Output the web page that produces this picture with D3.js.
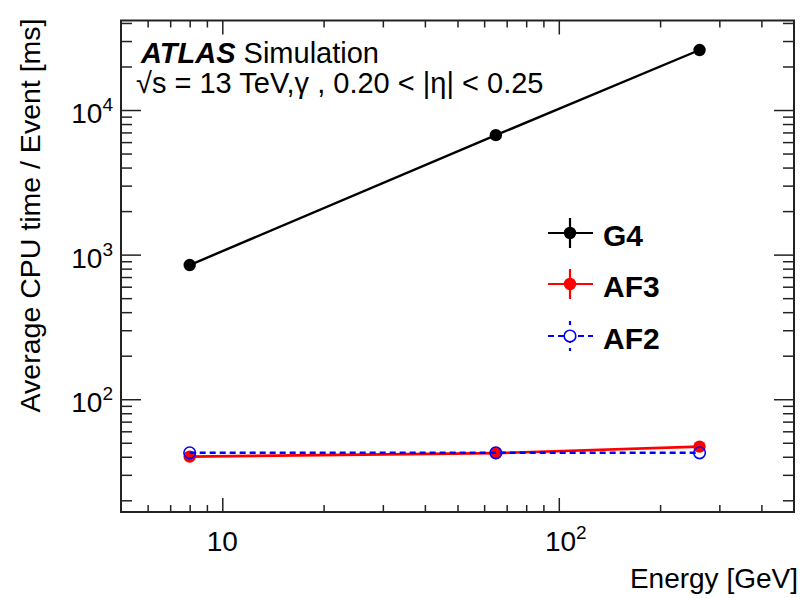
<!DOCTYPE html>
<html>
<head>
<meta charset="utf-8">
<script src="https://d3js.org/d3.v7.min.js"></script>
<style>
  body { margin: 0; background: #fff; }
  svg text { font-family: "Liberation Sans", Arial, Helvetica, sans-serif; fill: #000; }
</style>
</head>
<body>
<svg id="chart"></svg>
<script>
// energies in GeV
var energies = [8, 65, 262];
var g4 = [847, 6700, 26000];
var af3 = [40.1, 42.4, 47.0];
var af2 = [42.6, 42.6, 42.6];

var xMajor = [10, 100];
var xMinor = [6, 7, 8, 9, 20, 30, 40, 50, 60, 70, 80, 90, 200, 300, 400];
var yMajor = [100, 1000, 10000];
var yMinor = [20, 30, 40, 50, 60, 70, 80, 90, 200, 300, 400, 500, 600, 700, 800, 900,
              2000, 3000, 4000, 5000, 6000, 7000, 8000, 9000, 20000, 30000, 40000];

var width = 803, height = 598;
var pLeft = 121, pRight = 794, pTop = 20.5, pBottom = 512;

var svg = d3.select("#chart")
  .attr("width", width)
  .attr("height", height);

var x = d3.scaleLog().domain([5, 500]).range([pLeft, pRight]);
var y = d3.scaleLog().domain([16.6, 41600]).range([pBottom, pTop]);

// ticks on all four sides
function tickAxis(axisFn, scale, vals, size, tr) {
  var g = svg.append("g")
    .attr("transform", tr)
    .call(axisFn(scale).tickValues(vals).tickSize(size).tickFormat(""));
  g.select(".domain").remove();
  g.selectAll(".tick line").attr("stroke", "#222").attr("stroke-width", 1.5);
  return g;
}
tickAxis(d3.axisTop, x, xMajor, 14, "translate(0," + pBottom + ")");
tickAxis(d3.axisTop, x, xMinor, 7, "translate(0," + pBottom + ")");
tickAxis(d3.axisBottom, x, xMajor, 14, "translate(0," + pTop + ")");
tickAxis(d3.axisBottom, x, xMinor, 7, "translate(0," + pTop + ")");
tickAxis(d3.axisRight, y, yMajor, 20, "translate(" + pLeft + ",0)");
tickAxis(d3.axisRight, y, yMinor, 11, "translate(" + pLeft + ",0)");
tickAxis(d3.axisLeft, y, yMajor, 20, "translate(" + pRight + ",0)");
tickAxis(d3.axisLeft, y, yMinor, 11, "translate(" + pRight + ",0)");

// frame
svg.append("rect")
  .attr("x", pLeft).attr("y", pTop)
  .attr("width", pRight - pLeft).attr("height", pBottom - pTop)
  .attr("fill", "none").attr("stroke", "#222").attr("stroke-width", 2);

// tick labels (powers of ten)
function powLabel(sel, v) {
  var e = Math.round(Math.log10(v));
  if (e === 1) { sel.text("10"); return; }
  sel.append("tspan").text("10");
  sel.append("tspan").attr("dy", -12).attr("font-size", 19).text(e);
}
xMajor.forEach(function(v) {
  var t = svg.append("text")
    .attr("x", x(v) + (v === 10 ? 0 : 7)).attr("y", 551)
    .attr("text-anchor", "middle").attr("font-size", 28);
  powLabel(t, v);
});
yMajor.forEach(function(v) {
  var t = svg.append("text")
    .attr("x", 113).attr("y", y(v) + 13)
    .attr("text-anchor", "end").attr("font-size", 28);
  powLabel(t, v);
});

// axis titles
svg.append("text")
  .attr("x", 798).attr("y", 588)
  .attr("text-anchor", "end").attr("font-size", 28)
  .text("Energy [GeV]");
svg.append("text")
  .attr("transform", "translate(40," + (pTop - 2) + ") rotate(-90)")
  .attr("text-anchor", "end").attr("font-size", 28.5)
  .text("Average CPU time / Event [ms]");

// ATLAS label
var lab = svg.append("text").attr("x", 141).attr("y", 63).attr("font-size", 29);
lab.append("tspan").attr("font-weight", "bold").attr("font-style", "italic").text("ATLAS");
lab.append("tspan").text(" Simulation");
svg.append("text").attr("x", 136).attr("y", 93).attr("font-size", 29)
  .text("\u221As = 13 TeV,\u03B3 , 0.20 < |\u03B7| < 0.25");

var line = d3.line().x(function(d) { return x(d[0]); }).y(function(d) { return y(d[1]); });

function drawSeries(vals, color, dash, filled, lw) {
  var pts = energies.map(function(e, i) { return [e, vals[i]]; });
  svg.append("path").datum(pts)
    .attr("d", line).attr("fill", "none")
    .attr("stroke", color).attr("stroke-width", lw)
    .attr("stroke-dasharray", dash);
  svg.selectAll(null).data(pts).enter().append("circle")
    .attr("cx", function(d) { return x(d[0]); })
    .attr("cy", function(d) { return y(d[1]); })
    .attr("r", filled ? 6.2 : 5.8)
    .attr("fill", filled ? color : "none")
    .attr("stroke", color).attr("stroke-width", filled ? 0 : 1.6);
}
drawSeries(af3, "#ff0000", null, true, 2.6);
drawSeries(af2, "#0000ff", "6,4", false, 2.4);
drawSeries(g4, "#000000", null, true, 2.4);

// legend
var legend = [
  { name: "G4", color: "#000000", dash: null, filled: true, y: 233 },
  { name: "AF3", color: "#ff0000", dash: null, filled: true, y: 284 },
  { name: "AF2", color: "#0000ff", dash: "6,4", filled: false, y: 336 }
];
legend.forEach(function(l) {
  var g = svg.append("g");
  g.append("line").attr("x1", 548).attr("x2", 593).attr("y1", l.y).attr("y2", l.y)
    .attr("stroke", l.color).attr("stroke-width", 2.2).attr("stroke-dasharray", l.dash);
  g.append("line").attr("x1", 570).attr("x2", 570).attr("y1", l.y - 15).attr("y2", l.y + 15)
    .attr("stroke", l.color).attr("stroke-width", 2.2).attr("stroke-dasharray", l.dash ? "4,5" : null);
  g.append("circle").attr("cx", 570).attr("cy", l.y).attr("r", l.filled ? 6.2 : 5.8)
    .attr("fill", l.filled ? l.color : "#fff")
    .attr("stroke", l.color).attr("stroke-width", l.filled ? 0 : 1.6);
  g.append("text").attr("x", 603).attr("y", l.y + 12.5)
    .attr("font-size", 30).attr("font-weight", "bold").text(l.name);
});
</script>
</body>
</html>
